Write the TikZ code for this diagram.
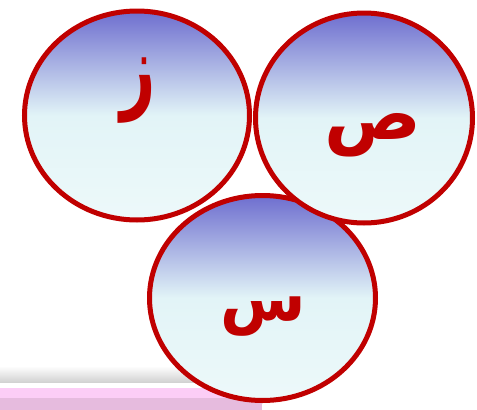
\documentclass[tikz,border=0pt]{standalone}
\usepackage{fontspec}
\newfontfamily\arabicfont[Script=Arabic]{DejaVu Sans}
\TeXXeTstate=1
\usetikzlibrary{shapes.geometric}

\definecolor{ringred}{HTML}{C00000}
\definecolor{ballTop}{HTML}{6E6ECF}
\definecolor{ballMid}{HTML}{E2F4F7}
\definecolor{ballLow}{HTML}{EDF9FA}
\definecolor{tabLight}{HTML}{FCCDF6}
\definecolor{tabDark}{HTML}{E6BBDE}
\definecolor{tabShadow}{HTML}{D2D2D2}

\begin{document}
\begin{tikzpicture}[
    x=1pt, y=-1pt,
    % Define the style for the shaded ellipses (red ring)
    ball/.style={ellipse, draw=ringred, line width=5pt, inner sep=0pt,
        top color=ballTop, bottom color=ballLow, middle color=ballMid},
    % Letter inside a ball
    letter/.style={text=ringred, inner sep=0pt,
        font=\arabicfont\bfseries\fontsize{72}{72}\selectfont}
]
    \useasboundingbox (0,0) rectangle (477,410);

    % --- Bottom tab (slide footer) ---
    \shade[top color=white, bottom color=tabShadow] (0,366) rectangle (262,382);
    \fill[tabLight] (0,388) rectangle (262,398);
    \fill[tabDark] (0,398) rectangle (262,410);

    % --- Ball 3: sin ---
    \node[ball, minimum width=226, minimum height=205] (ballS) at (262.5,298) {};
    \node[letter, xscale=0.86, yscale=0.9] (sin) at (263,317) {\beginR س\endR};

    % --- Ball 1: zay ---
    \node[ball, minimum width=225, minimum height=209] (ballZ) at (137,115.5) {};
    \node[letter, xscale=0.85, yscale=1.3] (zay) at (138,91) {\beginR ز\endR};

    % --- Ball 2: sad ---
    \node[ball, minimum width=217, minimum height=210] (ballSad) at (364,118) {};
    \node[letter] (sad) at (373,135) {\beginR ص\endR};

\end{tikzpicture}
\end{document}
